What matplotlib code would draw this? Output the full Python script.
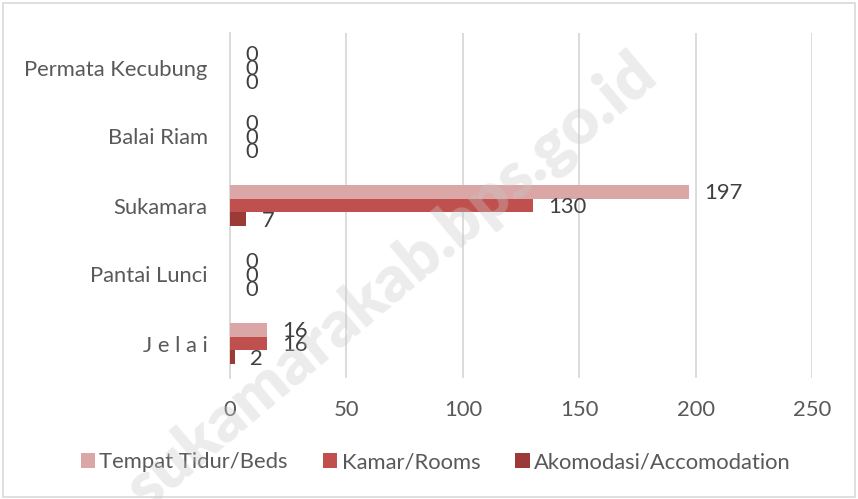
import matplotlib
matplotlib.use("Agg")
import matplotlib.pyplot as plt
import numpy as np
from matplotlib.patches import Rectangle

plt.rcParams['font.family'] = ['Lato', 'DejaVu Sans']

# data (bottom to top as drawn)
categories = ["J e l a i", "Pantai Lunci", "Sukamara", "Balai Riam", "Permata Kecubung"]
beds = [16, 0, 197, 0, 0]
rooms = [16, 0, 130, 0, 0]
accom = [2, 0, 7, 0, 0]
series_names = ["Tempat Tidur/Beds", "Kamar/Rooms", "Akomodasi/Accomodation"]
colors = ["#DAA6A6", "#C0504D", "#9B3A37"]
xticks = [0, 50, 100, 150, 200, 250]

text_col = "#595959"
grid_col = "#D9D9D9"
fs = 15.8

fig = plt.figure(figsize=(8.58, 4.99), dpi=100)
ax = fig.add_axes([230/858, 1-378/499, (812-230)/858, (378-33)/499])

y = np.arange(len(categories))
h = 0.2
offsets = [h, 0, -h]
for vals, off, col, name in zip([beds, rooms, accom], offsets, colors, series_names):
    ax.barh(y + off, vals, height=h, color=col, label=name, zorder=3)
    for yy, v in zip(y + off, vals):
        ax.annotate(str(v), xy=(v, yy), xytext=(11, -1), textcoords='offset points',
                    ha='left', va='center', fontsize=fs, color="#404040", zorder=4)

ax.set_xlim(0, 250)
ax.set_ylim(-0.5, len(categories) - 0.5)
ax.set_xticks(xticks)
ax.set_yticks(y)
ax.set_yticklabels(categories)
ax.tick_params(axis='both', length=0, labelsize=fs, labelcolor=text_col)
ax.tick_params(axis='x', pad=16)
ax.tick_params(axis='y', pad=16)
ax.grid(axis='x', color=grid_col, linewidth=1.3, zorder=0)
for s in ['top', 'right', 'bottom']:
    ax.spines[s].set_visible(False)
ax.spines['left'].set_color(grid_col)
ax.spines['left'].set_linewidth(1.3)

handles, labels = ax.get_legend_handles_labels()
fig.legend(handles, labels, loc='center', bbox_to_anchor=(0.508, 0.074), ncol=3,
           frameon=False, fontsize=fs, labelcolor=text_col, handlelength=0.65,
           handleheight=0.65, handletextpad=0.2, columnspacing=1.6)

# chart border
fig.patches.append(Rectangle((3/858, 2/499), 852/858, 494/499, transform=fig.transFigure,
                             fill=False, edgecolor=grid_col, linewidth=1.2))

# watermark (cut off at the bottom edge, as in the source)
fig.text(392/858, 1-282/499, "sukamarakab.bps.go.id", transform=fig.transFigure,
         rotation=40, rotation_mode='anchor', ha='center', va='center',
         fontsize=47, fontweight='heavy', color='#C8C8C8', alpha=0.35, zorder=10)

fig.savefig("out.png", dpi=100)
